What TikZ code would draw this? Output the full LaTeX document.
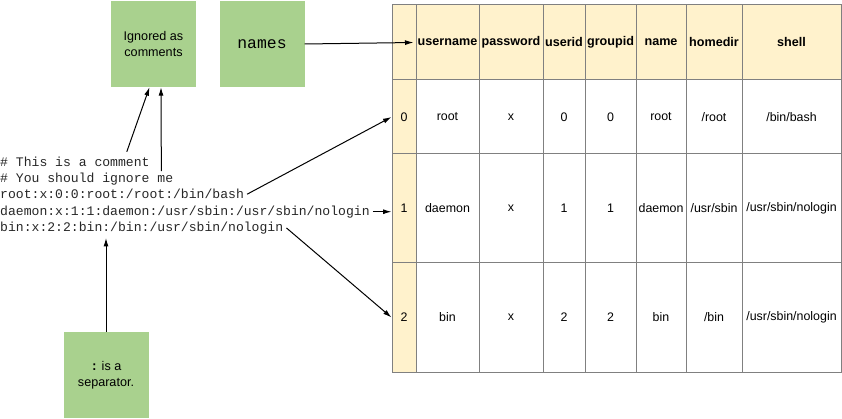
\documentclass[tikz,border=0pt]{standalone}
\usepackage{fontspec}
\setmainfont{Liberation Sans}
\setmonofont{Liberation Mono}
\usetikzlibrary{arrows.meta, positioning}
\definecolor{notegreen}{HTML}{A9D18E}
\definecolor{hdryellow}{HTML}{FFF2CC}
\definecolor{gridgray}{HTML}{808080}
\tikzset{
  note/.style={fill=notegreen, minimum width=85pt, minimum height=86pt,
    align=center, inner sep=0pt, font=\fontsize{12.6}{16}\selectfont},
  code/.style={anchor=base west, inner sep=0pt, text=black!85,
    font=\ttfamily\fontsize{13.1}{16}\selectfont},
  cell/.style={draw=gridgray, line width=1pt, inner sep=0pt,
    font=\fontsize{12.4}{15}\selectfont},
  hdrcell/.style={cell, fill=hdryellow, font=\bfseries\fontsize{12.6}{15}\selectfont},
  idxcell/.style={cell, fill=hdryellow, minimum width=24pt},
  link/.style={-{Latex[length=8.5pt,width=5pt]}, line width=1pt}
}
\def\colx{{416,479,543,585,636,686,742,841}}
\begin{document}
\begin{tikzpicture}[x=1pt, y=-1pt]
  \useasboundingbox (0,0) rectangle (842,419);
  % Table header
  \node[idxcell, minimum height=75pt] (ih) at (404,42.5) {};
  \foreach \txt [count=\c] in {username,password,userid,groupid,name,homedir,shell} {
    \pgfmathsetmacro\xa{\colx[\c-1]}
    \pgfmathsetmacro\xb{\colx[\c]}
    \pgfmathsetmacro\w{\xb-\xa}
    \pgfmathsetmacro\xm{(\xa+\xb)/2}
    \node[hdrcell, minimum width=\w pt, minimum height=75pt] (h\c) at (\xm,42.5) {\txt};
  }
  % Row 0
  \node[idxcell, minimum height=74pt] (i0) at (404,117) {0};
  \foreach \txt [count=\c] in {root,x,0,0,root,/root,/bin/bash} {
    \pgfmathsetmacro\xa{\colx[\c-1]}
    \pgfmathsetmacro\xb{\colx[\c]}
    \pgfmathsetmacro\w{\xb-\xa}
    \pgfmathsetmacro\xm{(\xa+\xb)/2}
    \node[cell, minimum width=\w pt, minimum height=74pt] (r0-\c) at (\xm,117) {\txt};
  }
  % Row 1
  \node[idxcell, minimum height=109pt] (i1) at (404,208.5) {1};
  \foreach \txt [count=\c] in {daemon,x,1,1,daemon,/usr/sbin,/usr/sbin/nologin} {
    \pgfmathsetmacro\xa{\colx[\c-1]}
    \pgfmathsetmacro\xb{\colx[\c]}
    \pgfmathsetmacro\w{\xb-\xa}
    \pgfmathsetmacro\xm{(\xa+\xb)/2}
    \node[cell, minimum width=\w pt, minimum height=109pt] (r1-\c) at (\xm,208.5) {\txt};
  }
  % Row 2
  \node[idxcell, minimum height=109pt] (i2) at (404,317.5) {2};
  \foreach \txt [count=\c] in {bin,x,2,2,bin,/bin,/usr/sbin/nologin} {
    \pgfmathsetmacro\xa{\colx[\c-1]}
    \pgfmathsetmacro\xb{\colx[\c]}
    \pgfmathsetmacro\w{\xb-\xa}
    \pgfmathsetmacro\xm{(\xa+\xb)/2}
    \node[cell, minimum width=\w pt, minimum height=109pt] (r2-\c) at (\xm,317.5) {\txt};
  }
  % File lines
  \node[code] (l1) at (0,166.5) {\# This is a comment};
  \node[code] (l2) at (0,182.7) {\# You should ignore me};
  \node[code] (l3) at (0,198.9) {root:x:0:0:root:/root:/bin/bash};
  \node[code] (l4) at (0,215.1) {daemon:x:1:1:daemon:/usr/sbin:/usr/sbin/nologin};
  \node[code] (l5) at (0,231.3) {bin:x:2:2:bin:/bin:/usr/sbin/nologin};
  \coordinate (colon) at (106,238);
  % Notes
  \node[note] (ign) at (153.5,44) {Ignored as\\comments};
  \node[note, font=\ttfamily\fontsize{16.4}{18}\selectfont] (names) at (262,44) {names};
  \node[note] (sep) at (106,375) {\texttt{\textbf{:}}\ is a\\separator.};
  % Arrows
  \draw[link] ([xshift=-23pt,yshift=5pt]l1.north east) -- ([xshift=-4pt]ign.south);
  \draw[link] ([xshift=-12pt,yshift=2pt]l2.north east) -- ([xshift=7.5pt]ign.south);
  \draw[link] (names.east) -- ([xshift=-2pt]h1.west);
  \draw[link] ([xshift=3pt]l3.east) -- (i0.west);
  \draw[link] ([xshift=3pt]l4.east) -- (l4.east -| i1.west);
  \draw[link] ([xshift=3pt]l5.east) -- (i2.west);
  \draw[link] (sep.north) -- (colon);
\end{tikzpicture}
\end{document}
